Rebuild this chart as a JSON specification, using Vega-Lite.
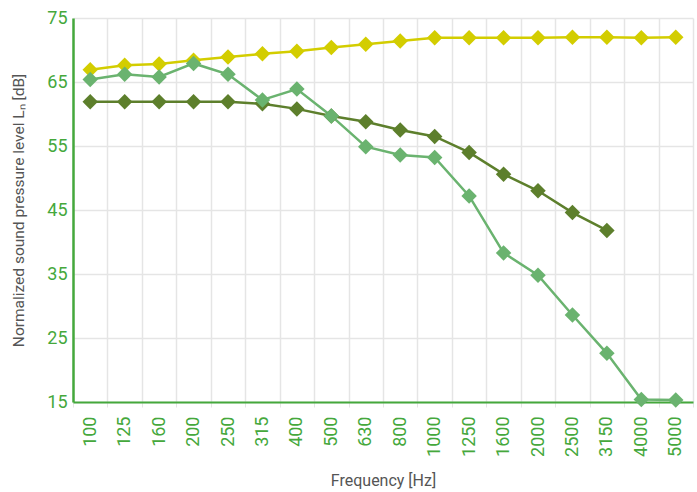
{
  "$schema": "https://vega.github.io/schema/vega-lite/v6.json",
  "width": 620,
  "height": 384,
  "autosize": "none",
  "padding": {"left": 73, "top": 18, "right": 4, "bottom": 90},
  "background": "white",
  "config": {
    "font": "Roboto",
    "view": {"stroke": null}
  },
  "data": {
    "values": [
      {"f": "100", "s": "A", "v": 66.9},
      {"f": "125", "s": "A", "v": 67.6},
      {"f": "160", "s": "A", "v": 67.8},
      {"f": "200", "s": "A", "v": 68.4},
      {"f": "250", "s": "A", "v": 68.9},
      {"f": "315", "s": "A", "v": 69.4},
      {"f": "400", "s": "A", "v": 69.8},
      {"f": "500", "s": "A", "v": 70.4},
      {"f": "630", "s": "A", "v": 70.9},
      {"f": "800", "s": "A", "v": 71.4},
      {"f": "1000", "s": "A", "v": 71.9},
      {"f": "1250", "s": "A", "v": 71.9},
      {"f": "1600", "s": "A", "v": 71.9},
      {"f": "2000", "s": "A", "v": 71.9},
      {"f": "2500", "s": "A", "v": 72.0},
      {"f": "3150", "s": "A", "v": 72.0},
      {"f": "4000", "s": "A", "v": 71.9},
      {"f": "5000", "s": "A", "v": 72.0},
      {"f": "100", "s": "B", "v": 61.9},
      {"f": "125", "s": "B", "v": 61.9},
      {"f": "160", "s": "B", "v": 61.9},
      {"f": "200", "s": "B", "v": 61.9},
      {"f": "250", "s": "B", "v": 61.9},
      {"f": "315", "s": "B", "v": 61.6},
      {"f": "400", "s": "B", "v": 60.8},
      {"f": "500", "s": "B", "v": 59.7},
      {"f": "630", "s": "B", "v": 58.8},
      {"f": "800", "s": "B", "v": 57.5},
      {"f": "1000", "s": "B", "v": 56.5},
      {"f": "1250", "s": "B", "v": 54.0},
      {"f": "1600", "s": "B", "v": 50.6},
      {"f": "2000", "s": "B", "v": 48.0},
      {"f": "2500", "s": "B", "v": 44.6},
      {"f": "3150", "s": "B", "v": 41.8},
      {"f": "100", "s": "C", "v": 65.4},
      {"f": "125", "s": "C", "v": 66.2},
      {"f": "160", "s": "C", "v": 65.8},
      {"f": "200", "s": "C", "v": 67.9},
      {"f": "250", "s": "C", "v": 66.2},
      {"f": "315", "s": "C", "v": 62.2},
      {"f": "400", "s": "C", "v": 63.9},
      {"f": "500", "s": "C", "v": 59.7},
      {"f": "630", "s": "C", "v": 54.9},
      {"f": "800", "s": "C", "v": 53.6},
      {"f": "1000", "s": "C", "v": 53.2},
      {"f": "1250", "s": "C", "v": 47.2},
      {"f": "1600", "s": "C", "v": 38.3},
      {"f": "2000", "s": "C", "v": 34.8},
      {"f": "2500", "s": "C", "v": 28.6},
      {"f": "3150", "s": "C", "v": 22.6},
      {"f": "4000", "s": "C", "v": 15.4},
      {"f": "5000", "s": "C", "v": 15.3}
    ]
  },
  "mark": {
    "type": "line",
    "strokeWidth": 2.5,
    "point": {"shape": "diamond", "size": 240, "filled": true, "opacity": 1}
  },
  "encoding": {
    "x": {
      "field": "f",
      "type": "ordinal",
      "sort": null,
      "scale": {"type": "band", "paddingInner": 0, "paddingOuter": 0},
      "title": "Frequency [Hz]",
      "axis": {
        "labelAngle": -90,
        "labelColor": "#45a83c",
        "labelFontSize": 18,
        "labelPadding": 9,
        "grid": true,
        "gridColor": "#e5e5e5",
        "gridWidth": 1.5,
        "tickBand": "extent",
        "ticks": true,
        "tickColor": "#e5e5e5",
        "tickSize": 5,
        "domainColor": "#45a83c",
        "domainWidth": 2,
        "titleColor": "#555555",
        "titleFontSize": 16,
        "titleFontWeight": "normal",
        "titlePadding": 16
      }
    },
    "y": {
      "field": "v",
      "type": "quantitative",
      "scale": {"domain": [15, 75], "nice": false, "zero": false},
      "title": "Normalized sound pressure level Lₙ [dB]",
      "axis": {
        "values": [15, 25, 35, 45, 55, 65, 75],
        "labelColor": "#45a83c",
        "labelFontSize": 18,
        "labelPadding": 6,
        "ticks": false,
        "grid": true,
        "gridColor": "#e5e5e5",
        "gridWidth": 1.5,
        "domainColor": "#45a83c",
        "domainWidth": 2.5,
        "titleColor": "#555555",
        "titleFontSize": 15.5,
        "titleFontWeight": "normal",
        "titlePadding": 20
      }
    },
    "color": {
      "field": "s",
      "type": "nominal",
      "scale": {"domain": ["A", "B", "C"], "range": ["#d3cd00", "#5d7f2c", "#6ab36f"]},
      "legend": null
    }
  }
}
